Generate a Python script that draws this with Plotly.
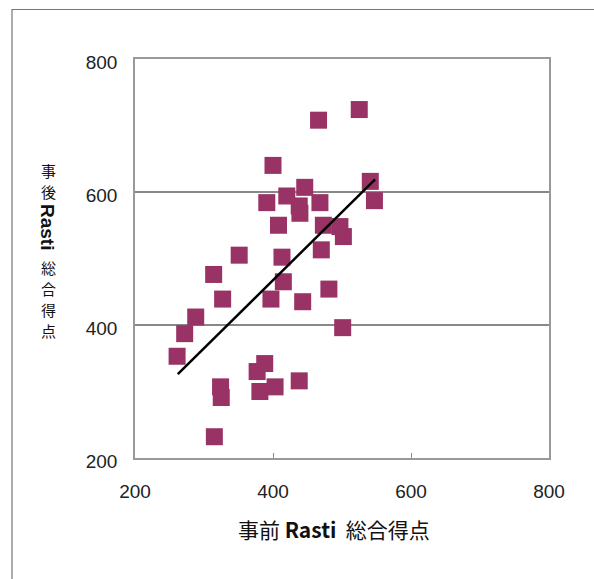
import plotly.graph_objects as go

# Data (pre score, post score)
pre_scores = [525, 466, 400, 541, 547, 391, 420, 446, 438, 468, 439, 408, 473, 497, 502, 470,
              413, 351, 314, 327, 288, 272, 415, 397, 443, 481, 501, 261, 324, 325, 315,
              377, 388, 381, 403, 438]
post_scores = [724, 708, 640, 616, 587, 584, 594, 607, 579, 584, 568, 550, 550, 548, 533, 513,
               502, 505, 476, 439, 412, 387, 465, 439, 435, 454, 396, 353, 307, 291, 232,
               330, 342, 300, 307, 316]

trend_x = [262, 548]
trend_y = [326, 619]

tick_vals = [200, 400, 600, 800]

W, H = 594, 579
L, R, T, B = 135, 45, 59, 121
pw, ph = W - L - R, H - T - B


def px_x(px):
    return (px - L) / pw


def px_y(py):
    return (H - B - py) / ph


fig = go.Figure()
fig.add_trace(go.Scatter(x=pre_scores, y=post_scores, mode="markers",
                         marker=dict(symbol="square", size=17, color="#993366",
                                     line=dict(width=0)),
                         showlegend=False, cliponaxis=False))
fig.add_trace(go.Scatter(x=trend_x, y=trend_y, mode="lines",
                         line=dict(color="black", width=2.5), showlegend=False))

axis_common = dict(range=[200, 800], tickvals=tick_vals, showline=True, mirror=True,
                   linecolor="#999999", linewidth=1.5, ticks="inside", ticklen=5,
                   tickcolor="#888888", tickfont=dict(family="Liberation Sans, Arial", size=19,
                                                      color="#222222"),
                   zeroline=False)
fig.update_xaxes(**axis_common, showgrid=False, ticklabelstandoff=15)
fig.update_yaxes(**axis_common, showgrid=True, gridcolor="#888888", gridwidth=2,
                 ticklabelstandoff=12, ticklabelshift=3)

ann = []
jp = "Noto Sans CJK JP"
# x-axis title
ann.append(dict(text="事前 <b>Rasti</b>\u00a0\u00a0総合得点", x=px_x(334), y=px_y(529),
                xref="paper", yref="paper", showarrow=False,
                font=dict(family=jp, size=21, color="#111111"),
                xanchor="center", yanchor="middle"))
# y-axis title (vertical, upright characters)
ycx = px_x(48)
for ch, py in [("事", 170), ("後", 191), ("総", 267), ("合", 288), ("得", 309), ("点", 330)]:
    ann.append(dict(text=ch, x=ycx, y=px_y(py), xref="paper", yref="paper", showarrow=False,
                    font=dict(family=jp, size=15, color="#111111"),
                    xanchor="center", yanchor="middle"))
ann.append(dict(text="<b>Rasti</b>", x=ycx, y=px_y(227), xref="paper", yref="paper", showarrow=False,
                textangle=90, font=dict(family="Liberation Sans, Arial", size=19, color="#111111"),
                xanchor="center", yanchor="middle"))

fig.update_layout(
    width=W, height=H, margin=dict(l=L, r=R, t=T, b=B),
    paper_bgcolor="white", plot_bgcolor="white",
    annotations=ann,
    shapes=[dict(type="rect", xref="paper", yref="paper", x0=px_x(12), x1=px_x(620),
                 y0=px_y(620), y1=px_y(9.5), line=dict(color="#777777", width=1.2), layer="below")],
)

fig.write_html("out.html", config={"displayModeBar": False},
               post_script="document.body.style.margin='0px';")
